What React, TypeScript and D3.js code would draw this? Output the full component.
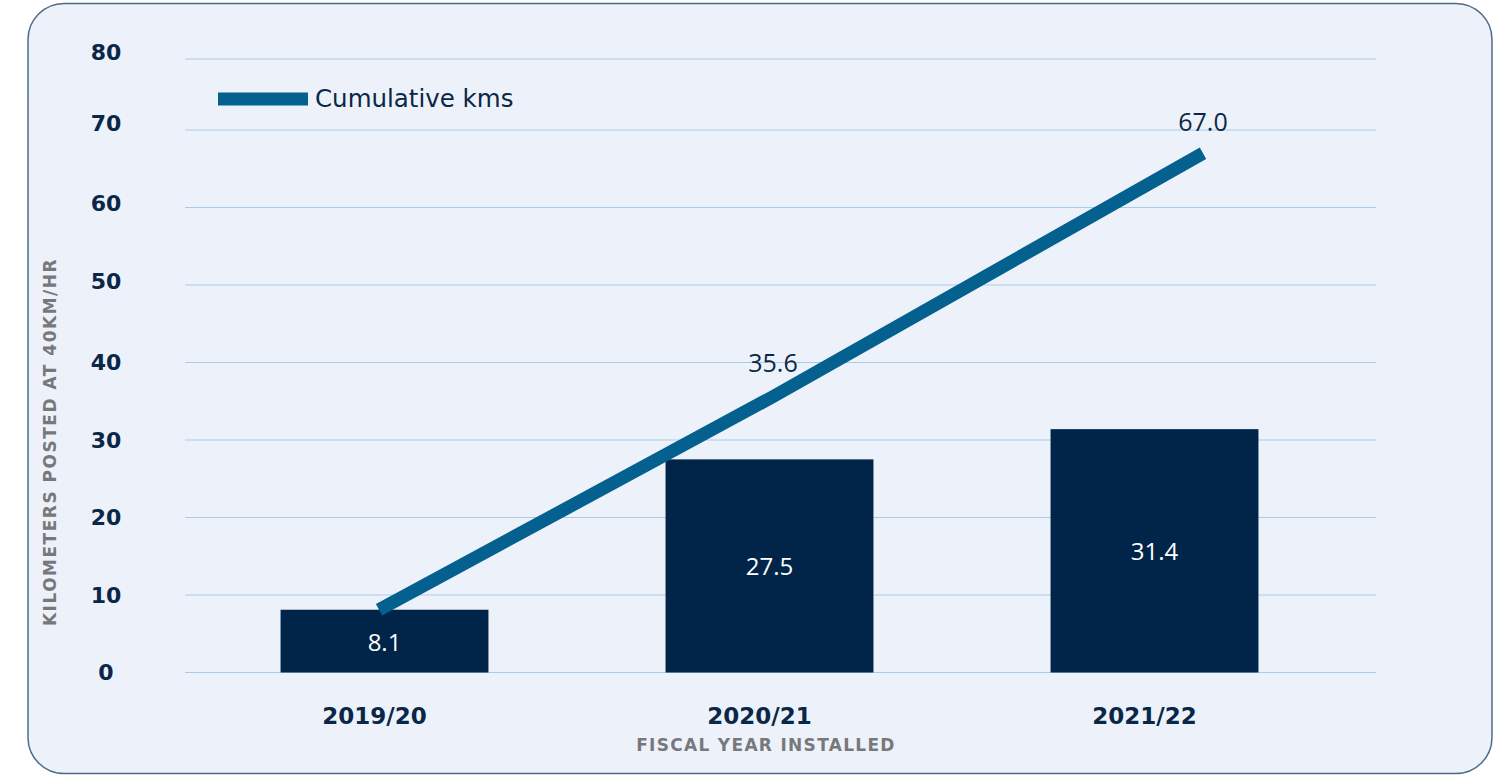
import React from "react";
import * as d3 from "d3";

const categories = ["2019/20", "2020/21", "2021/22"];
const annualKms = [8.1, 27.5, 31.4];
const cumulativeKms = [8.1, 35.6, 67.0];
const yTicks = [0, 10, 20, 30, 40, 50, 60, 70, 80];
const legendLabel = "Cumulative kms";
const xTitle = "FISCAL YEAR INSTALLED";
const yTitle = "KILOMETERS POSTED AT 40KM/HR";

const W = 1505;
const H = 775;
const NAVY = "#0b2747";
const BAR = "#002549";
const LINE = "#03608f";
const GRID = "#aacbe8";
const GRAY = "#77787b";
const BFONT = "'DejaVu Sans', 'Open Sans', sans-serif";
const LFONT = "'Open Sans', 'DejaVu Sans', sans-serif";

export default function App() {
  const plotLeft = 185;
  const plotRight = 1376;
  const y = d3.scaleLinear().domain([0, 80]).range([672.5, 52.5]);
  const xBand = d3
    .scaleBand<string>()
    .domain(categories)
    .range([192, 1347])
    .paddingInner(0.46)
    .paddingOuter(0.23);
  const xLine = d3
    .scaleOrdinal<string, number>()
    .domain(categories)
    .range([379, 773, 1203]);

  const lineGen = d3
    .line<number>()
    .x((_, i) => xLine(categories[i]))
    .y((d) => y(d));

  return (
    <svg
      width={W}
      height={H}
      style={{ position: "absolute", left: 0, top: 0, background: "#ffffff" }}
    >
      <rect
        x={28}
        y={3.5}
        width={1464}
        height={770}
        rx={36}
        ry={36}
        fill="#edf2fa"
        stroke="#4d6b88"
        strokeWidth={1.5}
      />
      {/* gridlines */}
      {yTicks.map((t) => (
        <line
          key={"g" + t}
          x1={plotLeft}
          x2={plotRight}
          y1={t === 80 ? y(t) + 6.5 : y(t)}
          y2={t === 80 ? y(t) + 6.5 : y(t)}
          stroke={GRID}
          strokeWidth={1}
        />
      ))}
      {/* y tick labels */}
      {yTicks.map((t) => (
        <text
          key={"t" + t}
          x={106}
          y={y(t) - (t === 70 ? 7 : t >= 50 && t < 80 ? 4 : 0)}
          textAnchor="middle"
          dominantBaseline="central"
          fontFamily={BFONT}
          fontWeight="bold"
          fontSize={22}
          fill={NAVY}
        >
          {t}
        </text>
      ))}
      {/* bars */}
      {annualKms.map((v, i) => (
        <rect
          key={"b" + i}
          x={xBand(categories[i])}
          y={y(v)}
          width={xBand.bandwidth()}
          height={y(0) - y(v)}
          fill={BAR}
        />
      ))}
      {/* bar labels */}
      {annualKms.map((v, i) => (
        <text
          key={"bl" + i}
          x={(xBand(categories[i]) as number) + xBand.bandwidth() / 2}
          y={(y(v) + y(0)) / 2}
          textAnchor="middle"
          dominantBaseline="central"
          fontFamily={LFONT}
          fontSize={24}
          fill="#ffffff"
        >
          {v.toFixed(1)}
        </text>
      ))}
      {/* line */}
      <path
        d={lineGen(cumulativeKms) || ""}
        fill="none"
        stroke={LINE}
        strokeWidth={13}
        strokeLinecap="butt"
        strokeLinejoin="miter"
      />
      {/* line labels */}
      {cumulativeKms.map((v, i) =>
        i === 0 ? null : (
          <text
            key={"ll" + i}
            x={xLine(categories[i])}
            y={y(v) - (i === 1 ? 35 : 32)}
            textAnchor="middle"
            dominantBaseline="central"
            fontFamily={LFONT}
            fontSize={25}
            fill={NAVY}
          >
            {v.toFixed(1)}
          </text>
        )
      )}
      {/* x tick labels */}
      {categories.map((c) => (
        <text
          key={"x" + c}
          x={(xBand(c) as number) + xBand.bandwidth() / 2 - 10}
          y={716}
          textAnchor="middle"
          dominantBaseline="central"
          fontFamily={BFONT}
          fontWeight="bold"
          fontSize={23}
          fill={NAVY}
        >
          {c}
        </text>
      ))}
      {/* x title */}
      <text
        x={766}
        y={745}
        textAnchor="middle"
        dominantBaseline="central"
        fontFamily={BFONT}
        fontWeight="bold"
        fontSize={17}
        letterSpacing={1.3}
        fill={GRAY}
      >
        {xTitle}
      </text>
      {/* y title */}
      <text
        transform={`translate(50, 442) rotate(-90)`}
        textAnchor="middle"
        dominantBaseline="central"
        fontFamily={BFONT}
        fontWeight="bold"
        fontSize={17}
        letterSpacing={1.5}
        fill={GRAY}
      >
        {yTitle}
      </text>
      {/* legend */}
      <line x1={218} x2={308} y1={99} y2={99} stroke={LINE} strokeWidth={13} />
      <text
        x={315}
        y={98}
        dominantBaseline="central"
        fontFamily={BFONT}
        fontSize={24.5}
        fill={NAVY}
      >
        {legendLabel}
      </text>
    </svg>
  );
}
